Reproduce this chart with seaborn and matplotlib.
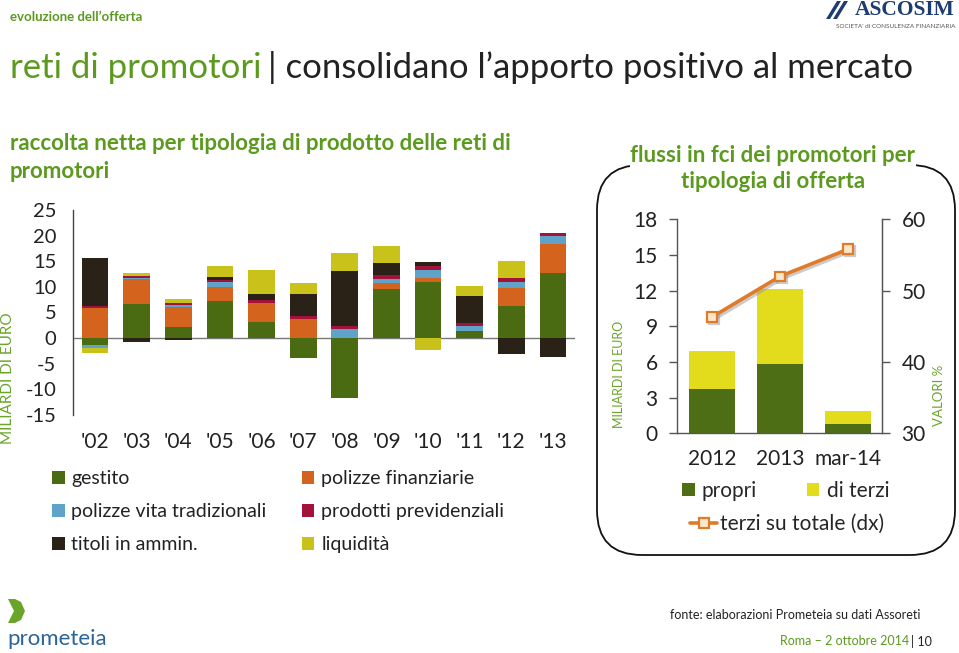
import numpy as np
import matplotlib
matplotlib.use("Agg")
import matplotlib.pyplot as plt
import seaborn as sns
from matplotlib.patches import Patch, FancyBboxPatch, Polygon
from matplotlib.lines import Line2D
import matplotlib.patheffects as pe

# ---------------- data ----------------
years = ["'02", "'03", "'04", "'05", "'06", "'07", "'08", "'09", "'10", "'11", "'12", "'13"]
gestito = [-1.4, 6.6, 2.1, 7.3, 3.2, -3.8, -11.7, 9.5, 11.0, 1.4, 6.3, 12.8]
polizze_finanziarie = [5.8, 4.9, 3.9, 2.7, 3.6, 3.7, 0.0, 1.2, 0.8, 0.0, 3.4, 5.5]
polizze_vita = [-0.5, 0.3, 0.5, 1.0, 0.0, 0.0, 1.7, 0.8, 1.4, 1.0, 1.3, 1.7]
prodotti_previdenziali = [0.45, 0.4, 0.4, 0.3, 0.6, 0.7, 0.7, 0.8, 0.8, 0.6, 0.8, 0.5]
titoli_ammin = [9.3, -0.8, -0.4, 0.6, 1.3, 4.3, 10.6, 2.3, 0.8, 5.3, -3.1, -3.6]
liquidita = [-1.0, 0.5, 0.8, 2.1, 4.6, 2.1, 3.7, 3.3, -2.3, 1.9, 3.3, 0.0]
series_labels = ["gestito", "polizze finanziarie", "polizze vita tradizionali",
                 "prodotti previdenziali", "titoli in ammin.", "liquidità"]
left_yticks = [25, 20, 15, 10, 5, 0, -5, -10, -15]

periods = ["2012", "2013", "mar-14"]
propri = [3.7, 5.8, 0.8]
di_terzi = [3.2, 6.3, 1.1]
terzi_su_totale = [46.3, 52.0, 55.8]
right_yticks_left = [0, 3, 6, 9, 12, 15, 18]
right_yticks_right = [30, 40, 50, 60]

# ---------------- style ----------------
FONT = ["Lato", "DejaVu Sans"]
sns.set_style("white")
plt.rcParams["font.family"] = FONT
plt.rcParams["axes.unicode_minus"] = False

GREEN_T = "#5b9a1f"
GREEN_L = "#6aa52a"
DARK = "#222222"
series_colors = ["#4b6b12", "#d4641d", "#5fa3c8", "#a3123a", "#2a2117", "#c9c21b"]

fig = plt.figure(figsize=(9.59, 6.53), dpi=100)

# background (pixel coordinate) axes for decoration and texts
bg = fig.add_axes([0, 0, 1, 1], zorder=0)
bg.set_xlim(0, 959)
bg.set_ylim(653, 0)
bg.axis("off")

# ---------------- left chart ----------------
ax1 = fig.add_axes([73 / 959, 1 - 415 / 653, 502 / 959, 205 / 653], zorder=2)
ax1.patch.set_alpha(0)
series_vals = [gestito, polizze_finanziarie, polizze_vita, prodotti_previdenziali, titoli_ammin, liquidita]
pos_base = np.zeros(len(years))
neg_base = np.zeros(len(years))
for vals, col in zip(series_vals, series_colors):
    v = np.asarray(vals, dtype=float)
    bottom = np.where(v >= 0, pos_base, neg_base)
    sns.barplot(x=years, y=v, order=years, bottom=bottom, color=col, saturation=1,
                width=0.64, errorbar=None, linewidth=0, ax=ax1)
    pos_base += np.clip(v, 0, None)
    neg_base += np.clip(v, None, 0)

ax1.axhline(0, color="#777777", lw=1, zorder=0.5)
ax1.set_ylim(-15, 25)
ax1.set_xlim(-0.53, 11.53)
ax1.set_yticks(left_yticks)
ax1.set_yticklabels([str(t) for t in left_yticks])
for s in ["top", "right", "bottom"]:
    ax1.spines[s].set_visible(False)
ax1.spines["left"].set_color("#444444")
ax1.spines["left"].set_linewidth(1)
ax1.tick_params(axis="y", direction="out", length=6, width=1, color="#444444",
                labelsize=14.5, pad=6, labelcolor=DARK)
ax1.tick_params(axis="x", length=0, labelsize=15, pad=12, labelcolor=DARK)
ax1.set_xlabel("")
ax1.set_ylabel("MILIARDI DI EURO", color=GREEN_L, fontsize=11)
ax1.yaxis.set_label_coords(-0.1155, 0.18)

handles = [Patch(facecolor=series_colors[i], edgecolor="none") for i in [0, 2, 4, 1, 3, 5]]
labels = [series_labels[i] for i in [0, 2, 4, 1, 3, 5]]
leg1 = ax1.legend(handles, labels, ncol=2, loc="upper left",
                  bbox_to_anchor=(52 / 959, 1 - 470 / 653), bbox_transform=fig.transFigure,
                  frameon=False, fontsize=14, handlelength=0.65, handleheight=0.65,
                  handletextpad=0.35, columnspacing=1.8, labelspacing=0.82,
                  borderpad=0, borderaxespad=0)
for t in leg1.get_texts():
    t.set_color(DARK)

# ---------------- right chart ----------------
ax2 = fig.add_axes([677 / 959, 1 - 433.3 / 653, 205 / 959, 214 / 653], zorder=2)
ax2.patch.set_alpha(0)
sns.barplot(x=periods, y=propri, order=periods, color="#4d6e14", saturation=1,
            width=0.68, errorbar=None, linewidth=0, ax=ax2)
sns.barplot(x=periods, y=di_terzi, order=periods, bottom=np.asarray(propri), color="#e2dc1c",
            saturation=1, width=0.68, errorbar=None, linewidth=0, ax=ax2)
ax2.set_ylim(0, 18)
ax2.set_xlim(-0.515, 2.5)
ax2.set_yticks(right_yticks_left)
ax2.set_yticklabels([str(t) for t in right_yticks_left])
ax2.spines["top"].set_visible(False)
for s in ["left", "right", "bottom"]:
    ax2.spines[s].set_color("#555555")
    ax2.spines[s].set_linewidth(1)
ax2.tick_params(axis="y", direction="out", length=6, width=1, color="#555555",
                labelsize=15, pad=8, labelcolor=DARK)
ax2.tick_params(axis="x", length=0, labelsize=15, pad=11, labelcolor=DARK)
ax2.set_xlabel("")
ax2.set_ylabel("MILIARDI DI EURO", color=GREEN_L, fontsize=9)
ax2.yaxis.set_label_coords(-0.254, 0.277)

ax3 = ax2.twinx()
sns.pointplot(x=periods, y=terzi_su_totale, order=periods, color="#e07b2a",
              markers="s", linestyles="-", errorbar=None, ax=ax3,
              linewidth=2.6, markersize=7, markeredgewidth=1.6)
ln = ax3.lines[0]
ln.set_markerfacecolor("#fde7c8")
ln.set_markeredgecolor("#e07b2a")
ln.set_path_effects([pe.SimpleLineShadow(offset=(1.5, -1.5), shadow_color="#999999", alpha=0.5),
                     pe.Normal()])
ax3.set_ylim(30, 60)
ax3.set_xlim(-0.515, 2.5)
ax3.set_yticks(right_yticks_right)
ax3.set_yticklabels([str(t) for t in right_yticks_right])
for s in ["top", "left", "bottom"]:
    ax3.spines[s].set_visible(False)
ax3.spines["right"].set_color("#555555")
ax3.tick_params(axis="y", direction="out", length=6, width=1, color="#555555",
                labelsize=15, pad=8, labelcolor=DARK)
ax3.set_xlabel("")
ax3.set_ylabel("VALORI %", color=GREEN_L, fontsize=9.5)
ax3.yaxis.set_label_coords(1.249, 0.179)

h_bar = [Patch(facecolor="#4d6e14", edgecolor="none"), Patch(facecolor="#e2dc1c", edgecolor="none")]
leg2 = ax2.legend(h_bar, ["propri", "di terzi"], ncol=2, loc="center left",
                  bbox_to_anchor=(682 / 959, 1 - 491 / 653), bbox_transform=fig.transFigure,
                  frameon=False, fontsize=15, handlelength=0.6, handleheight=0.6,
                  handletextpad=0.35, columnspacing=2.4, borderpad=0, borderaxespad=0)
h_line = [Line2D([0], [0], color="#e07b2a", lw=2.6, marker="s", markersize=7,
                 markerfacecolor="#fde7c8", markeredgecolor="#e07b2a", markeredgewidth=1.6)]
ax3.legend(h_line, ["terzi su totale (dx)"], loc="center left",
           bbox_to_anchor=(690 / 959, 1 - 524 / 653), bbox_transform=fig.transFigure,
           frameon=False, fontsize=15, handlelength=1.3, handletextpad=0.15,
           borderpad=0, borderaxespad=0)

# ---------------- decoration ----------------
box = FancyBboxPatch((597, 165), 358, 390, boxstyle="round,pad=0,rounding_size=45",
                     facecolor="none", edgecolor="#111111", linewidth=1.3, zorder=1)
bg.add_patch(box)
bg.add_patch(FancyBboxPatch((630, 135), 286, 62, boxstyle="square,pad=0",
                            facecolor="white", edgecolor="none", zorder=1.5))

bg.text(10, 17, "evoluzione dell’offerta", color=GREEN_T, fontsize=9.5, fontweight="bold",
        va="center", ha="left")
bg.text(955, 10, "ASCOSIM", color="#1d3c70", fontsize=15.5, fontweight="bold",
        family=["Liberation Serif", "DejaVu Serif"], va="center", ha="right")
bg.add_patch(Polygon([[826, 19], [830, 19], [841, 1], [837, 1]], closed=True,
                     facecolor="#1d3c70", edgecolor="none"))
bg.add_patch(Polygon([[833, 19], [837, 19], [848, 1], [844, 1]], closed=True,
                     facecolor="#1d3c70", edgecolor="none"))
bg.text(955, 27, "SOCIETA' di CONSULENZA FINANZIARIA", color="#555555", fontsize=4.6,
        va="center", ha="right")

t1 = bg.text(10, 68, "reti di promotori", color=GREEN_T, fontsize=25, va="center", ha="left")
fig.canvas.draw()
bb = t1.get_window_extent()
x_after = bb.x1 + 6
bg.text(x_after, 68, "| consolidano l’apporto positivo al mercato", color=DARK, fontsize=25,
        va="center", ha="left")

bg.text(10, 143, "raccolta netta per tipologia di prodotto delle reti di", color=GREEN_T,
        fontsize=16, fontweight="bold", va="center", ha="left")
bg.text(10, 171, "promotori", color=GREEN_T, fontsize=16, fontweight="bold",
        va="center", ha="left")
bg.text(773, 155, "flussi in fci dei promotori per", color=GREEN_T, fontsize=16,
        fontweight="bold", va="center", ha="center", zorder=3)
bg.text(773, 182, "tipologia di offerta", color=GREEN_T, fontsize=16,
        fontweight="bold", va="center", ha="center", zorder=3)

bg.text(920, 615, "fonte: elaborazioni Prometeia su dati Assoreti", color=DARK,
        fontsize=9, va="center", ha="right")
bg.text(909, 641, "Roma – 2 ottobre 2014", color=GREEN_T, fontsize=9, va="center", ha="right")
bg.text(911, 641, "| 10", color=DARK, fontsize=9, va="center", ha="left")

bg.add_patch(Polygon([[8, 599], [15, 599], [21, 602], [25, 611], [21, 620], [15, 623],
                      [8, 623], [14, 611]],
                     closed=True, facecolor="#6aa52a", edgecolor="none"))
bg.text(7, 639, "prometeia", color="#2b6495", fontsize=16, va="center", ha="left")

fig.savefig("out.png", dpi=100)
